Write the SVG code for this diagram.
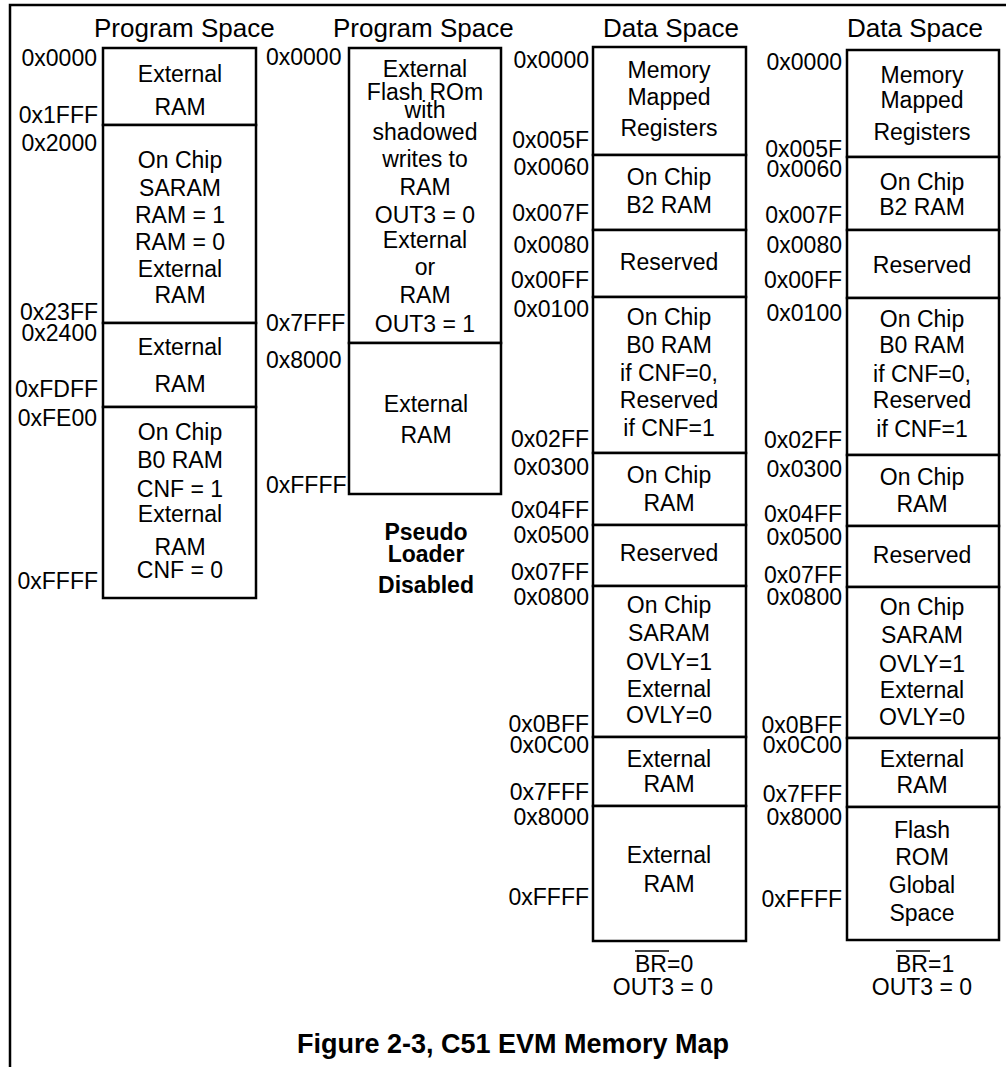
<svg xmlns="http://www.w3.org/2000/svg" width="1006" height="1067" viewBox="0 0 1006 1067">
<style>
.frame{fill:none;stroke:#000;stroke-width:2.5}
.box{fill:#fff;stroke:#000;stroke-width:2.5}
text{font-family:"Liberation Sans",Arial,Helvetica,sans-serif;font-size:23px;fill:#000}
.c{text-anchor:middle}
.a{text-anchor:end}
.h{font-size:26px}
.b{font-weight:bold}
.title{font-size:27px;font-weight:bold}
.ol{stroke:#000;stroke-width:1.6}
</style>
<rect width="1006" height="1067" fill="#fff"/>
<polyline class="frame" points="10,1067 10,5 1006,5"/>

<g id="col1-program-space">
  <text class="h" x="94" y="37">Program Space</text>
  <g id="p1-ext-ram-0000">
    <rect class="box" x="103" y="48" width="153" height="77"/>
    <text class="c" x="180" y="82">External</text>
    <text class="c" x="180" y="115">RAM</text>
  </g>
  <g id="p1-saram-2000">
    <rect class="box" x="103" y="125" width="153" height="198"/>
    <text class="c" x="180" y="168">On Chip</text>
    <text class="c" x="180" y="196">SARAM</text>
    <text class="c" x="180" y="223">RAM = 1</text>
    <text class="c" x="180" y="250">RAM = 0</text>
    <text class="c" x="180" y="277">External</text>
    <text class="c" x="180" y="303">RAM</text>
  </g>
  <g id="p1-ext-ram-2400">
    <rect class="box" x="103" y="323" width="153" height="84"/>
    <text class="c" x="180" y="355">External</text>
    <text class="c" x="180" y="392">RAM</text>
  </g>
  <g id="p1-b0-fe00">
    <rect class="box" x="103" y="407" width="153" height="191"/>
    <text class="c" x="180" y="440">On Chip</text>
    <text class="c" x="180" y="468">B0 RAM</text>
    <text class="c" x="180" y="497">CNF = 1</text>
    <text class="c" x="180" y="522">External</text>
    <text class="c" x="180" y="555">RAM</text>
    <text class="c" x="180" y="578">CNF = 0</text>
  </g>
  <g id="p1-addr">
    <text class="a" x="97" y="66">0x0000</text>
    <text class="a" x="98" y="123">0x1FFF</text>
    <text class="a" x="97" y="151">0x2000</text>
    <text class="a" x="98" y="320">0x23FF</text>
    <text class="a" x="97" y="341">0x2400</text>
    <text class="a" x="98" y="397">0xFDFF</text>
    <text class="a" x="97" y="426">0xFE00</text>
    <text class="a" x="98" y="589">0xFFFF</text>
  </g>
</g>

<g id="col2-program-space">
  <text class="h" x="333" y="37">Program Space</text>
  <g id="p2-flash-0000">
    <rect class="box" x="349" y="48" width="152" height="295"/>
    <text class="c" x="425" y="77">External</text>
    <text class="c" x="425" y="100">Flash ROm</text>
    <text class="c" x="425" y="118">with</text>
    <text class="c" x="425" y="140">shadowed</text>
    <text class="c" x="425" y="167">writes to</text>
    <text class="c" x="425" y="195">RAM</text>
    <text class="c" x="425" y="223">OUT3 = 0</text>
    <text class="c" x="425" y="248">External</text>
    <text class="c" x="425" y="275">or</text>
    <text class="c" x="425" y="303">RAM</text>
    <text class="c" x="425" y="332">OUT3 = 1</text>
  </g>
  <g id="p2-ext-ram-8000">
    <rect class="box" x="349" y="343" width="152" height="151"/>
    <text class="c" x="426" y="412">External</text>
    <text class="c" x="426" y="443">RAM</text>
  </g>
  <g id="p2-addr">
    <text x="266" y="65">0x0000</text>
    <text x="266" y="331">0x7FFF</text>
    <text x="266" y="368">0x8000</text>
    <text x="266" y="493">0xFFFF</text>
  </g>
  <g id="p2-note">
    <text class="c b" x="426" y="540">Pseudo</text>
    <text class="c b" x="426" y="562">Loader</text>
    <text class="c b" x="426" y="593">Disabled</text>
  </g>
</g>

<g id="col3-data-space">
  <text class="h" x="603" y="37">Data Space</text>
  <g id="d3-mmr">
    <rect class="box" x="593" y="47" width="153" height="108"/>
    <text class="c" x="669" y="78">Memory</text>
    <text class="c" x="669" y="105">Mapped</text>
    <text class="c" x="669" y="136">Registers</text>
  </g>
  <g id="d3-b2">
    <rect class="box" x="593" y="155" width="153" height="75"/>
    <text class="c" x="669" y="185">On Chip</text>
    <text class="c" x="669" y="213">B2 RAM</text>
  </g>
  <g id="d3-res-0080">
    <rect class="box" x="593" y="230" width="153" height="67"/>
    <text class="c" x="669" y="270">Reserved</text>
  </g>
  <g id="d3-b0">
    <rect class="box" x="593" y="297" width="153" height="156"/>
    <text class="c" x="669" y="325">On Chip</text>
    <text class="c" x="669" y="353">B0 RAM</text>
    <text class="c" x="669" y="381">if CNF=0,</text>
    <text class="c" x="669" y="408">Reserved</text>
    <text class="c" x="669" y="436">if CNF=1</text>
  </g>
  <g id="d3-ram-0300">
    <rect class="box" x="593" y="453" width="153" height="72"/>
    <text class="c" x="669" y="483">On Chip</text>
    <text class="c" x="669" y="511">RAM</text>
  </g>
  <g id="d3-res-0500">
    <rect class="box" x="593" y="525" width="153" height="61"/>
    <text class="c" x="669" y="561">Reserved</text>
  </g>
  <g id="d3-saram">
    <rect class="box" x="593" y="586" width="153" height="151"/>
    <text class="c" x="669" y="613">On Chip</text>
    <text class="c" x="669" y="641">SARAM</text>
    <text class="c" x="669" y="670">OVLY=1</text>
    <text class="c" x="669" y="697">External</text>
    <text class="c" x="669" y="723">OVLY=0</text>
  </g>
  <g id="d3-ext-0c00">
    <rect class="box" x="593" y="737" width="153" height="69"/>
    <text class="c" x="669" y="767">External</text>
    <text class="c" x="669" y="792">RAM</text>
  </g>
  <g id="d3-ext-8000">
    <rect class="box" x="593" y="806" width="153" height="135"/>
    <text class="c" x="669" y="863">External</text>
    <text class="c" x="669" y="892">RAM</text>
  </g>
  <g id="d3-addr">
    <text class="a" x="589" y="68">0x0000</text>
    <text class="a" x="589" y="148">0x005F</text>
    <text class="a" x="589" y="175">0x0060</text>
    <text class="a" x="589" y="221">0x007F</text>
    <text class="a" x="589" y="253">0x0080</text>
    <text class="a" x="589" y="288">0x00FF</text>
    <text class="a" x="589" y="317">0x0100</text>
    <text class="a" x="589" y="447">0x02FF</text>
    <text class="a" x="589" y="475">0x0300</text>
    <text class="a" x="589" y="518">0x04FF</text>
    <text class="a" x="589" y="543">0x0500</text>
    <text class="a" x="589" y="580">0x07FF</text>
    <text class="a" x="589" y="605">0x0800</text>
    <text class="a" x="589" y="732">0x0BFF</text>
    <text class="a" x="589" y="753">0x0C00</text>
    <text class="a" x="589" y="800">0x7FFF</text>
    <text class="a" x="589" y="825">0x8000</text>
    <text class="a" x="589" y="905">0xFFFF</text>
  </g>
  <g id="d3-cond">
    <text x="635" y="972">BR=0</text>
    <line class="ol" x1="635" y1="951" x2="669" y2="951"/>
    <text class="c" x="663" y="995">OUT3 = 0</text>
  </g>
</g>

<g id="col4-data-space">
  <text class="h" x="847" y="37">Data Space</text>
  <g id="d4-mmr">
    <rect class="box" x="847" y="50" width="152" height="107"/>
    <text class="c" x="922" y="83">Memory</text>
    <text class="c" x="922" y="108">Mapped</text>
    <text class="c" x="922" y="140">Registers</text>
  </g>
  <g id="d4-b2">
    <rect class="box" x="847" y="157" width="152" height="73"/>
    <text class="c" x="922" y="190">On Chip</text>
    <text class="c" x="922" y="215">B2 RAM</text>
  </g>
  <g id="d4-res-0080">
    <rect class="box" x="847" y="230" width="152" height="68"/>
    <text class="c" x="922" y="273">Reserved</text>
  </g>
  <g id="d4-b0">
    <rect class="box" x="847" y="298" width="152" height="157"/>
    <text class="c" x="922" y="327">On Chip</text>
    <text class="c" x="922" y="353">B0 RAM</text>
    <text class="c" x="922" y="382">if CNF=0,</text>
    <text class="c" x="922" y="408">Reserved</text>
    <text class="c" x="922" y="437">if CNF=1</text>
  </g>
  <g id="d4-ram-0300">
    <rect class="box" x="847" y="455" width="152" height="71"/>
    <text class="c" x="922" y="485">On Chip</text>
    <text class="c" x="922" y="512">RAM</text>
  </g>
  <g id="d4-res-0500">
    <rect class="box" x="847" y="526" width="152" height="61"/>
    <text class="c" x="922" y="563">Reserved</text>
  </g>
  <g id="d4-saram">
    <rect class="box" x="847" y="587" width="152" height="151"/>
    <text class="c" x="922" y="615">On Chip</text>
    <text class="c" x="922" y="643">SARAM</text>
    <text class="c" x="922" y="672">OVLY=1</text>
    <text class="c" x="922" y="698">External</text>
    <text class="c" x="922" y="725">OVLY=0</text>
  </g>
  <g id="d4-ext-0c00">
    <rect class="box" x="847" y="738" width="152" height="69"/>
    <text class="c" x="922" y="767">External</text>
    <text class="c" x="922" y="793">RAM</text>
  </g>
  <g id="d4-flash-8000">
    <rect class="box" x="847" y="807" width="152" height="133"/>
    <text class="c" x="922" y="838">Flash</text>
    <text class="c" x="922" y="865">ROM</text>
    <text class="c" x="922" y="893">Global</text>
    <text class="c" x="922" y="921">Space</text>
  </g>
  <g id="d4-addr">
    <text class="a" x="842" y="70">0x0000</text>
    <text class="a" x="842" y="157">0x005F</text>
    <text class="a" x="842" y="177">0x0060</text>
    <text class="a" x="842" y="223">0x007F</text>
    <text class="a" x="842" y="253">0x0080</text>
    <text class="a" x="842" y="288">0x00FF</text>
    <text class="a" x="842" y="321">0x0100</text>
    <text class="a" x="842" y="448">0x02FF</text>
    <text class="a" x="842" y="477">0x0300</text>
    <text class="a" x="842" y="522">0x04FF</text>
    <text class="a" x="842" y="545">0x0500</text>
    <text class="a" x="842" y="583">0x07FF</text>
    <text class="a" x="842" y="605">0x0800</text>
    <text class="a" x="842" y="733">0x0BFF</text>
    <text class="a" x="842" y="753">0x0C00</text>
    <text class="a" x="842" y="802">0x7FFF</text>
    <text class="a" x="842" y="825">0x8000</text>
    <text class="a" x="842" y="907">0xFFFF</text>
  </g>
  <g id="d4-cond">
    <text x="896" y="972">BR=1</text>
    <line class="ol" x1="896" y1="951" x2="930" y2="951"/>
    <text class="c" x="922" y="995">OUT3 = 0</text>
  </g>
</g>

<text class="title" x="297" y="1053">Figure 2-3, C51 EVM Memory Map</text>
</svg>
